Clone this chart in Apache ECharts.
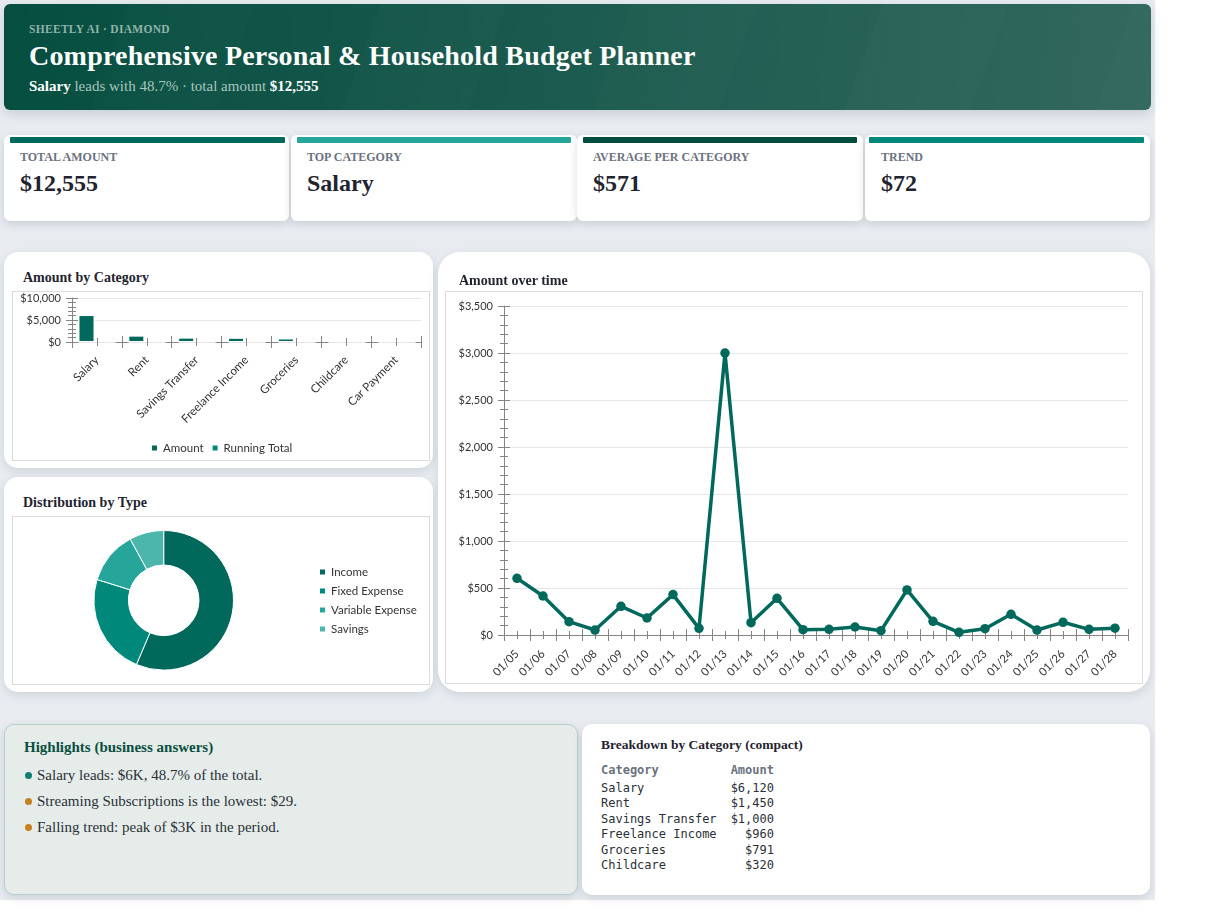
<!DOCTYPE html>
<html>
<head>
<meta charset="utf-8">
<title>Budget Planner</title>
<script src="https://cdn.jsdelivr.net/npm/echarts@6/dist/echarts.min.js"></script>
<style>
html, body { margin: 0; padding: 0; background: #fff; min-height: 922px; }
#page { position: relative; width: 1155px; height: 900px; background: #e8ecf1; overflow: visible; font-family: "Liberation Serif", serif; color: #1f2430; }
#page div { box-sizing: border-box; }
.abs { position: absolute; white-space: nowrap; }
#hero { position: absolute; left: 4px; top: 4px; width: 1147px; height: 106px; border-radius: 6px;
    background: repeating-linear-gradient(110deg, rgba(255,255,255,0) 0 118px, rgba(255,255,255,.01) 118px 236px), linear-gradient(95deg, #054e40 0%, #33685e 100%);
    box-shadow: 0 4px 12px rgba(30,50,60,.16); }
.kpi { position: absolute; top: 135px; height: 86px; background: #fff; border-radius: 6px; box-shadow: 0 3px 8px rgba(30,50,60,.16); }
.kpi i { position: absolute; top: 2px; height: 6px; border-radius: 1px; }
.kpi b.lab { position: absolute; top: 15px; left: 16px; font-size: 12px; line-height: 14px; color: #6b7280; white-space: nowrap; }
.kpi b.val { position: absolute; top: 34px; left: 16px; font-size: 24px; line-height: 28px; color: #1f2430; white-space: nowrap; }
.card { position: absolute; background: #fff; box-shadow: 0 3px 10px rgba(30,50,60,.13); }
.cardTitle { position: absolute; font-weight: bold; font-size: 14px; line-height: 16px; color: #1f2430; white-space: nowrap; }
.chart { position: absolute; outline: 1px solid #dadde0; outline-offset: -1px; }
#highlights { position: absolute; left: 4px; top: 724px; width: 574px; height: 171px; background: #e5ecea; border: 1px solid #b7cfca; border-radius: 10px; box-shadow: 0 3px 8px rgba(30,50,60,.14); }
#highlights h3 { position: absolute; left: 19px; top: 14px; margin: 0; font-size: 15px; line-height: 17px; color: #0b4f41; white-space: nowrap; }
.hl { position: absolute; left: 32px; font-size: 15px; line-height: 18px; color: #2b3038; white-space: nowrap; }
.hl i { position: absolute; left: -12px; top: 6px; width: 7px; height: 7px; border-radius: 50%; }
#breakdown { position: absolute; left: 582px; top: 724px; width: 568px; height: 171px; background: #fff; border-radius: 10px; box-shadow: 0 3px 8px rgba(30,50,60,.14); }
#breakdown h3 { position: absolute; left: 19px; top: 13px; margin: 0; font-size: 13.5px; line-height: 15px; color: #1f2430; white-space: nowrap; }
.row { position: absolute; left: 19px; width: 173px; font-family: "DejaVu Sans Mono", monospace; font-size: 12px; line-height: 15px; color: #2b3038; white-space: pre; }
.row span { position: absolute; right: 0; top: 0; }
.row.head { color: #6b7280; font-weight: bold; }
</style>
</head>
<body>
<div id="page">
    <div id="hero">
        <div class="abs" style="left:25px;top:18px;font-size:11.5px;line-height:14px;letter-spacing:.3px;font-weight:bold;color:#8fb3a9">SHEETLY AI · DIAMOND</div>
        <div class="abs" style="left:25px;top:35px;font-size:28px;line-height:34px;letter-spacing:.2px;font-weight:bold;color:#fff">Comprehensive Personal &amp; Household Budget Planner</div>
        <div class="abs" style="left:25px;top:73px;font-size:15px;line-height:18px;color:#a9c5be"><b style="color:#fff">Salary</b> leads with 48.7% · total amount <b style="color:#fff">$12,555</b></div>
    </div>
    <div id="kpis"></div>

    <div class="card" style="left:4px;top:252px;width:429px;height:216px;border-radius:14px"></div>
    <div class="cardTitle" style="left:23px;top:270px">Amount by Category</div>
    <div class="chart" id="bar-chart" style="left:12px;top:291px;width:418px;height:170px"></div>

    <div class="card" style="left:4px;top:477px;width:429px;height:215px;border-radius:14px"></div>
    <div class="cardTitle" style="left:23px;top:495px">Distribution by Type</div>
    <div class="chart" id="pie-chart" style="left:12px;top:516px;width:418px;height:169px"></div>

    <div class="card" style="left:438px;top:252px;width:712px;height:440px;border-radius:22px"></div>
    <div class="cardTitle" style="left:459px;top:273px">Amount over time</div>
    <div class="chart" id="line-chart" style="left:445px;top:291px;width:698px;height:393px"></div>

    <div id="highlights">
        <h3>Highlights (business answers)</h3>
        <div id="hl-list"></div>
    </div>
    <div id="breakdown">
        <h3>Breakdown by Category (compact)</h3>
        <div id="tb-rows"></div>
    </div>
</div>

<script>
// kpi cards
var kpiLabels = ["TOTAL AMOUNT", "TOP CATEGORY", "AVERAGE PER CATEGORY", "TREND"];
var kpiValues = ["$12,555", "Salary", "$571", "$72"];
var kpiColors = ["#00695c", "#26a69a", "#004d40", "#00897b"];

// bar chart
var categories = ["Salary", "Rent", "Savings Transfer", "Freelance Income", "Groceries", "Childcare", "Car Payment"];
var amounts = [6120, 1450, 1000, 960, 791, 320, 300];
var runningTotal = [];
var barTicks = [0, 5000, 10000];

// donut
var types = ["Income", "Fixed Expense", "Variable Expense", "Savings"];
var typeValues = [7080, 2940, 1535, 1000];
var typeColors = ["#00695c", "#00897b", "#26a69a", "#4db6ac"];

// line chart
var days = ["01/05", "01/06", "01/07", "01/08", "01/09", "01/10", "01/11", "01/12", "01/13", "01/14", "01/15", "01/16",
    "01/17", "01/18", "01/19", "01/20", "01/21", "01/22", "01/23", "01/24", "01/25", "01/26", "01/27", "01/28"];
var dayAmounts = [603, 415, 142, 53, 305, 181, 430, 71, 3000, 131, 390, 57, 60, 85, 46, 479, 146, 29, 67, 220, 53, 135, 60, 72];

// text blocks
var highlights = ["Salary leads: $6K, 48.7% of the total.", "Streaming Subscriptions is the lowest: $29.", "Falling trend: peak of $3K in the period."];
var highlightDots = ["#0f7f6f", "#c77f20", "#c77f20"];
var tableCategories = ["Salary", "Rent", "Savings Transfer", "Freelance Income", "Groceries", "Childcare"];
var tableAmounts = ["$6,120", "$1,450", "$1,000", "$960", "$791", "$320"];

var kpiLeft = [4, 291, 577, 865];
var kpiWidth = [285, 286, 286, 285];
var kpiBarLeft = [6, 6, 6, 4];
var kpiBarWidth = [275, 274, 274, 275];
var kpiHtml = "";
kpiLabels.forEach(function(label, i) {
    kpiHtml += '<div class="kpi" style="left:' + kpiLeft[i] + 'px;width:' + kpiWidth[i] + 'px">' +
        '<i style="left:' + kpiBarLeft[i] + 'px;width:' + kpiBarWidth[i] + 'px;background:' + kpiColors[i] + '"></i>' +
        '<b class="lab">' + label + '</b><b class="val">' + kpiValues[i] + '</b></div>';
});
document.getElementById("kpis").innerHTML = kpiHtml;

var hlHtml = "";
highlights.forEach(function(text, i) {
    hlHtml += '<div class="hl" style="top:' + (41 + i * 26) + 'px"><i style="background:' + highlightDots[i] + '"></i>' + text + '</div>';
});
document.getElementById("hl-list").innerHTML = hlHtml;

var rowHtml = '<div class="row head" style="top:39px">Category<span>Amount</span></div>';
tableCategories.forEach(function(name, i) {
    rowHtml += '<div class="row" style="top:' + (57 + i * 15.4) + 'px">' + name + '<span>' + tableAmounts[i] + '</span></div>';
});
document.getElementById("tb-rows").innerHTML = rowHtml;

var axisGray = "#858585";
var gridGray = "#e4e6e8";

// hidden value axis, only used for crossing major + minor ticks along the category axis
function xTickAxis(count, inside, line) {
    return {
        type: "value", position: "bottom", min: 0, max: count, interval: 1,
        axisLabel: { show: false },
        splitLine: { show: false },
        axisLine: line,
        axisTick: { show: true, inside: inside, length: 6, lineStyle: { color: axisGray } },
        minorTick: { show: true, splitNumber: 2, length: 4, lineStyle: { color: axisGray } }
    };
}

function yAxes(max, interval, font, fontSize) {
    var main = {
        type: "value", position: "left", min: 0, max: max, interval: interval,
        axisLabel: { margin: 11, fontFamily: font, fontSize: fontSize, color: "#333", padding: [2, 0, 0, 0],
            formatter: function(v) { return "$" + v.toLocaleString("en-US"); } },
        splitLine: { show: true, lineStyle: { color: gridGray, width: 1 } },
        axisLine: { show: true, onZero: false, lineStyle: { color: axisGray } },
        axisTick: { show: true, inside: false, length: 6, lineStyle: { color: axisGray } },
        minorTick: { show: true, splitNumber: 5, length: 4, lineStyle: { color: axisGray } }
    };
    var inner = {
        type: "value", position: "left", min: 0, max: max, interval: interval,
        axisLabel: { show: false },
        splitLine: { show: false },
        axisLine: { show: false, onZero: false },
        axisTick: { show: true, inside: true, length: 6, lineStyle: { color: axisGray } },
        minorTick: { show: true, splitNumber: 5, length: 4, lineStyle: { color: axisGray } }
    };
    return [main, inner];
}

// Amount by Category
var barChart = echarts.init(document.getElementById("bar-chart"));
barChart.setOption({
    animation: false,
    legend: {
        data: ["Amount", "Running Total"], bottom: 2, left: 133, icon: "rect", itemWidth: 7, itemHeight: 7, itemGap: 7,
        textStyle: { fontFamily: "Lato", fontSize: 11.5, color: "#333" }
    },
    grid: { left: 60, right: 9, top: 7, bottom: 119 },
    xAxis: [
        {
            type: "category", data: categories, position: "bottom",
            axisLine: { show: true, onZero: false, lineStyle: { color: gridGray } },
            axisTick: { show: false },
            axisLabel: { rotate: 45, interval: 0, margin: 16, fontFamily: "Lato", fontSize: 11.6, color: "#333" }
        },
        // dark dash around every major tick, period = one category
        xTickAxis(categories.length, false, { show: true, onZero: false, lineStyle: { color: axisGray, type: [12, 38], dashOffset: 6 } }),
        xTickAxis(categories.length, true, { show: false, onZero: false })
    ],
    yAxis: yAxes(barTicks[2], barTicks[1], "Lato", 11),
    series: [
        { name: "Amount", type: "bar", xAxisIndex: 0, yAxisIndex: 0, data: amounts, barGap: "30%", barCategoryGap: "26%",
            itemStyle: { color: "#00695c", borderColor: "#fff", borderWidth: 1 } },
        { name: "Running Total", type: "bar", xAxisIndex: 0, yAxisIndex: 0, data: runningTotal,
            itemStyle: { color: "#00897b", borderColor: "#fff", borderWidth: 1 } }
    ]
});

// Distribution by Type
var pieChart = echarts.init(document.getElementById("pie-chart"));
pieChart.setOption({
    animation: false,
    color: typeColors,
    legend: {
        data: types, orient: "vertical", left: 301, top: 45, icon: "rect", itemWidth: 7, itemHeight: 7, itemGap: 7,
        textStyle: { fontFamily: "Lato", fontSize: 11.5, color: "#333" }
    },
    series: [{
        type: "pie", center: [151.7, 84.3], radius: [35.3, 69.8], startAngle: 90, label: { show: false },
        itemStyle: { borderColor: "#fff", borderWidth: 1 },
        data: types.map(function(name, i) { return { name: name, value: typeValues[i] }; })
    }]
});

// Amount over time
var lineChart = echarts.init(document.getElementById("line-chart"));
lineChart.setOption({
    animation: false,
    grid: { left: 59, right: 15, top: 15, bottom: 49 },
    xAxis: [
        {
            type: "category", data: days, position: "bottom",
            axisLine: { show: true, onZero: false, lineStyle: { color: axisGray } },
            axisTick: { show: false },
            axisLabel: { rotate: 45, interval: 0, margin: 17, fontFamily: "Lato", fontSize: 11.3, color: "#333" }
        },
        xTickAxis(days.length, false, { show: false, onZero: false }),
        xTickAxis(days.length, true, { show: false, onZero: false })
    ],
    yAxis: yAxes(3500, 500, "Lato", 11),
    series: [{
        name: "Amount", type: "line", xAxisIndex: 0, yAxisIndex: 0, data: dayAmounts,
        symbol: "circle", symbolSize: 9.5, lineStyle: { color: "#00695c", width: 3.5 }, itemStyle: { color: "#00695c" }
    }]
});
</script>
</body>
</html>
